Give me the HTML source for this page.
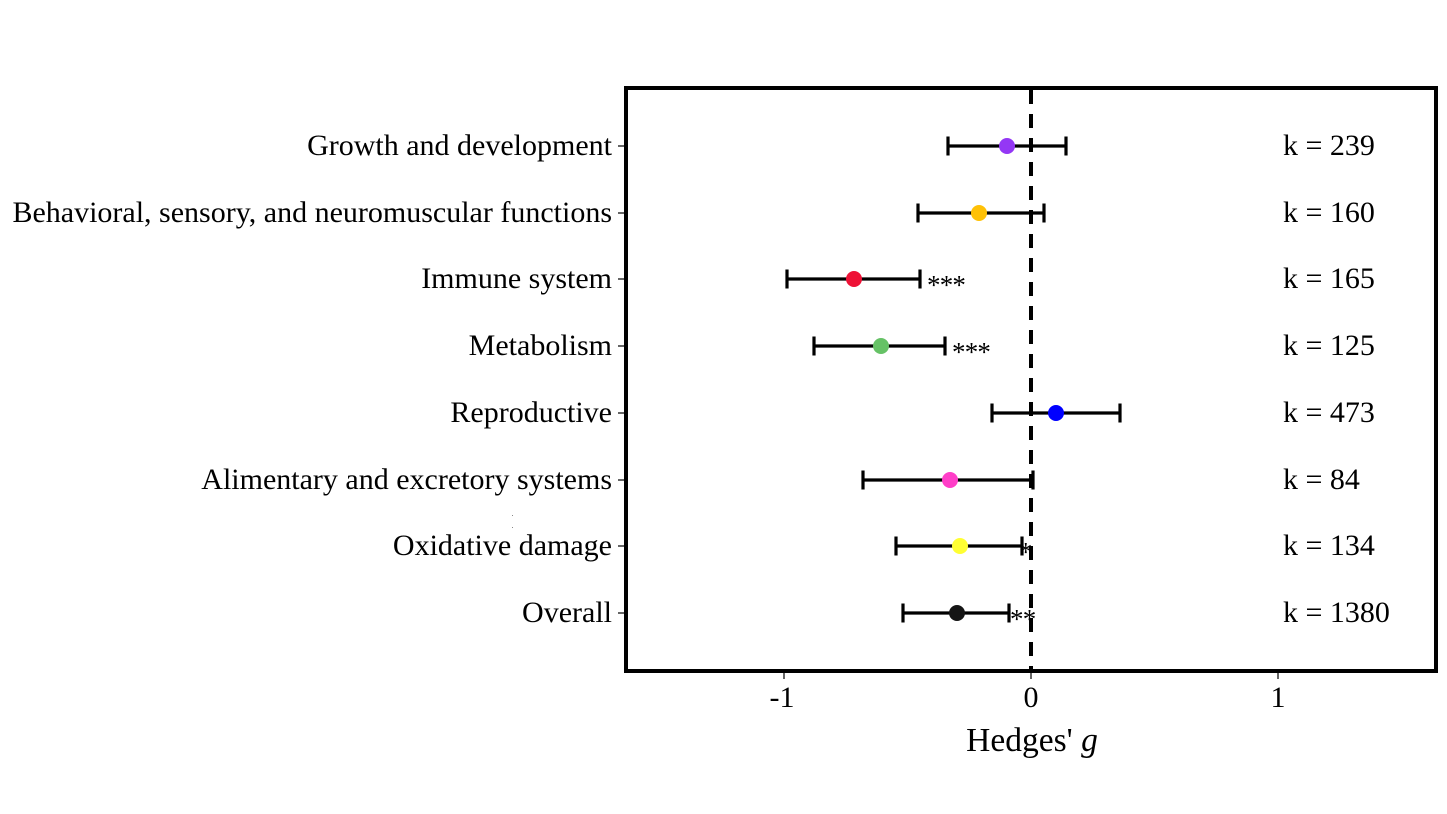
<!DOCTYPE html>
<html>
<head>
<meta charset="utf-8">
<style>
  html, body { margin: 0; padding: 0; background: #fff; }
  svg { display: block; }
  text { font-family: "Liberation Serif", "Times New Roman", serif; fill: #000; }
</style>
</head>
<body>
<svg width="1447" height="814" viewBox="0 0 1447 814" xmlns="http://www.w3.org/2000/svg">
  <rect x="0" y="0" width="1447" height="814" fill="#fff"/>

  <!-- dashed zero line -->
  <line x1="1031" y1="90" x2="1031" y2="670" stroke="#000" stroke-width="4" stroke-dasharray="14,10"/>

  <!-- y ticks -->
  <g stroke="#333" stroke-width="1.5">
    <line x1="618" y1="146" x2="626" y2="146"/>
    <line x1="618" y1="213" x2="626" y2="213"/>
    <line x1="618" y1="279" x2="626" y2="279"/>
    <line x1="618" y1="346" x2="626" y2="346"/>
    <line x1="618" y1="413" x2="626" y2="413"/>
    <line x1="618" y1="480" x2="626" y2="480"/>
    <line x1="618" y1="546" x2="626" y2="546"/>
    <line x1="618" y1="613" x2="626" y2="613"/>
  </g>
  <!-- x ticks -->
  <g stroke="#333" stroke-width="1.5">
    <line x1="784" y1="671" x2="784" y2="679"/>
    <line x1="1031" y1="671" x2="1031" y2="679"/>
    <line x1="1278" y1="671" x2="1278" y2="679"/>
  </g>

  <!-- error bars -->
  <g stroke="#000" stroke-width="3.2" fill="none">
    <line x1="948" y1="146" x2="1066" y2="146"/>
    <line x1="948" y1="136.5" x2="948" y2="155.5"/>
    <line x1="1066" y1="136.5" x2="1066" y2="155.5"/>
    <line x1="918" y1="213" x2="1044" y2="213"/>
    <line x1="918" y1="203.5" x2="918" y2="222.5"/>
    <line x1="1044" y1="203.5" x2="1044" y2="222.5"/>
    <line x1="787" y1="279" x2="920" y2="279"/>
    <line x1="787" y1="269.5" x2="787" y2="288.5"/>
    <line x1="920" y1="269.5" x2="920" y2="288.5"/>
    <line x1="814" y1="346" x2="945" y2="346"/>
    <line x1="814" y1="336.5" x2="814" y2="355.5"/>
    <line x1="945" y1="336.5" x2="945" y2="355.5"/>
    <line x1="992" y1="413" x2="1120" y2="413"/>
    <line x1="992" y1="403.5" x2="992" y2="422.5"/>
    <line x1="1120" y1="403.5" x2="1120" y2="422.5"/>
    <line x1="863" y1="480" x2="1033" y2="480"/>
    <line x1="863" y1="470.5" x2="863" y2="489.5"/>
    <line x1="1033" y1="470.5" x2="1033" y2="489.5"/>
    <line x1="896" y1="546" x2="1022" y2="546"/>
    <line x1="896" y1="536.5" x2="896" y2="555.5"/>
    <line x1="1022" y1="536.5" x2="1022" y2="555.5"/>
    <line x1="903" y1="613" x2="1009" y2="613"/>
    <line x1="903" y1="603.5" x2="903" y2="622.5"/>
    <line x1="1009" y1="603.5" x2="1009" y2="622.5"/>
  </g>

  <!-- points -->
  <circle cx="1007" cy="146" r="8" fill="#9437F5"/>
  <circle cx="979" cy="213" r="8" fill="#FFC107"/>
  <circle cx="854" cy="279" r="8" fill="#EE1236"/>
  <circle cx="881" cy="346" r="8" fill="#66C266"/>
  <circle cx="1056" cy="413" r="8" fill="#0000FF"/>
  <circle cx="950" cy="480" r="8" fill="#FF3EC8"/>
  <circle cx="960" cy="546" r="8" fill="#FFFF33"/>
  <circle cx="957" cy="613" r="8" fill="#151515"/>

  <!-- significance stars -->
  <g font-size="27" letter-spacing="-0.8">
    <text x="927" y="294">***</text>
    <text x="952" y="361">***</text>
    <text x="1019" y="561">*</text>
    <text x="1010" y="628">**</text>
  </g>

  <!-- frame -->
  <rect x="626" y="88" width="810" height="583" fill="none" stroke="#000" stroke-width="4"/>

  <!-- category labels -->
  <g font-size="30" text-anchor="end">
    <text x="612" y="155">Growth and development</text>
    <text x="612" y="222">Behavioral, sensory, and neuromuscular functions</text>
    <text x="612" y="288">Immune system</text>
    <text x="612" y="355">Metabolism</text>
    <text x="612" y="422">Reproductive</text>
    <text x="612" y="489">Alimentary and excretory systems</text>
    <text x="612" y="555">Oxidative damage</text>
    <text x="612" y="622">Overall</text>
  </g>

  <!-- k labels -->
  <g font-size="30">
    <text x="1283" y="155">k = 239</text>
    <text x="1283" y="222">k = 160</text>
    <text x="1283" y="288">k = 165</text>
    <text x="1283" y="355">k = 125</text>
    <text x="1283" y="422">k = 473</text>
    <text x="1283" y="489">k = 84</text>
    <text x="1283" y="555">k = 134</text>
    <text x="1283" y="622">k = 1380</text>
  </g>

  <!-- x tick labels -->
  <g font-size="30" text-anchor="middle">
    <text x="782" y="707">-1</text>
    <text x="1031" y="707">0</text>
    <text x="1278" y="707">1</text>
  </g>

  <!-- x axis title -->
  <text x="1032" y="751" font-size="33.5" text-anchor="middle">Hedges' <tspan font-style="italic">g</tspan></text>

  <!-- tiny artifacts -->
  <rect x="512" y="515" width="1" height="1" fill="#888"/>
  <rect x="512" y="527" width="1" height="1" fill="#888"/>
</svg>
</body>
</html>
